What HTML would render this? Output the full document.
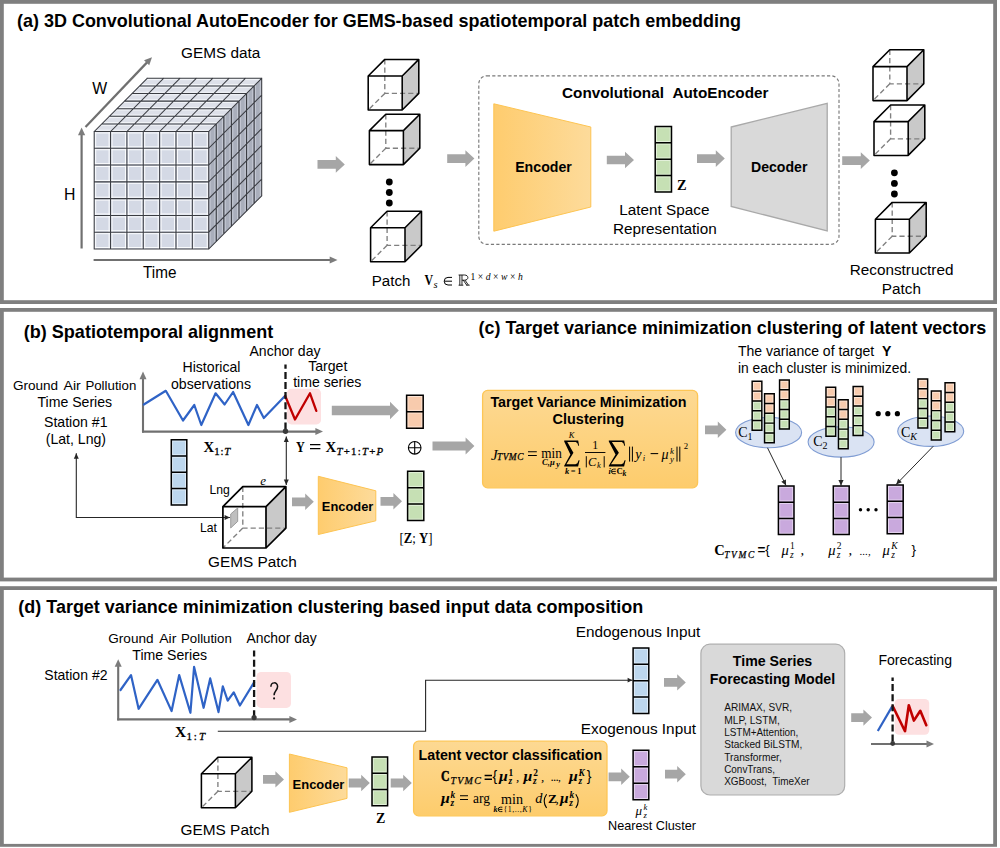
<!DOCTYPE html>
<html lang="en"><head><meta charset="utf-8"><title>TVMC framework</title>
<style>html,body{margin:0;padding:0;background:#fff}body{width:1000px;height:848px;overflow:hidden}svg{display:block}.ss{font-family:"Liberation Sans", sans-serif}.sf{font-family:"Liberation Serif", serif}</style>
</head><body>
<svg width="1000" height="848" viewBox="0 0 1000 848">
<defs>
<linearGradient id="gEnc" x1="0" y1="0" x2="1" y2="0"><stop offset="0" stop-color="#fecc6e"/><stop offset="1" stop-color="#fddb9b"/></linearGradient>
<linearGradient id="gBox" x1="0" y1="0" x2="0" y2="1"><stop offset="0" stop-color="#fdd993"/><stop offset="1" stop-color="#fdcc6c"/></linearGradient>
</defs>
<rect width="1000" height="848" fill="#fff"/>
<rect x="1.9" y="1.9" width="993.2" height="300.2" fill="#fff" stroke="#7f7f7f" stroke-width="3.8"/>
<rect x="1.9" y="309.9" width="993.2" height="269.6" fill="#fff" stroke="#7f7f7f" stroke-width="3.8"/>
<rect x="1.9" y="588.1" width="993.2" height="257.7" fill="#fff" stroke="#7f7f7f" stroke-width="3.8"/>
<rect x="0" y="846.8" width="1000" height="1.2" fill="#fff"/>
<!-- panel a -->
<text class="ss" x="17" y="26.8" font-size="17.9" font-weight="bold" textLength="724" lengthAdjust="spacingAndGlyphs">(a) 3D Convolutional AutoEncoder for GEMS-based spatiotemporal patch embedding</text>
<polygon points="94.2,131.5 208.7,131.5 261.7,78.3 147.2,78.3" fill="#dde0e9"/>
<polygon points="208.7,131.5 261.7,78.3 261.7,195.8 208.7,249" fill="#a9aebb"/>
<rect x="94.2" y="131.5" width="114.5" height="117.5" fill="#d4d9e5"/>
<path d="M95.65 131.5 V249 M94.2 132.95 H208.7 M112.01 131.5 V249 M109.11 131.5 V249 M94.2 149.74 H208.7 M94.2 146.84 H208.7 M128.36 131.5 V249 M125.46 131.5 V249 M94.2 166.52 H208.7 M94.2 163.62 H208.7 M144.72 131.5 V249 M141.82 131.5 V249 M94.2 183.31 H208.7 M94.2 180.41 H208.7 M161.08 131.5 V249 M158.18 131.5 V249 M94.2 200.09 H208.7 M94.2 197.19 H208.7 M177.44 131.5 V249 M174.54 131.5 V249 M94.2 216.88 H208.7 M94.2 213.98 H208.7 M193.79 131.5 V249 M190.89 131.5 V249 M94.2 233.66 H208.7 M94.2 230.76 H208.7 M207.25 131.5 V249 M94.2 247.55 H208.7 " fill="none" stroke="#fbfcfe" stroke-width="1.0"/>
<path d="M95.5 130.2 H210 M103.07 122.6 H217.57 M100.47 125.2 H214.97 M110.64 115 H225.14 M108.04 117.6 H222.54 M118.21 107.4 H232.71 M115.61 110 H230.11 M125.79 99.8 H240.29 M123.19 102.4 H237.69 M133.36 92.2 H247.86 M130.76 94.8 H245.26 M140.93 84.6 H255.43 M138.33 87.2 H252.83 M145.9 79.6 H260.4 " fill="none" stroke="#f3f5f9" stroke-width="1.0"/>
<path d="M210.1 130.1 V247.6 M217.67 122.5 V240 M214.87 125.3 V242.8 M225.24 114.9 V232.4 M222.44 117.7 V235.2 M232.81 107.3 V224.8 M230.01 110.1 V227.6 M240.39 99.7 V217.2 M237.59 102.5 V220 M247.96 92.1 V209.6 M245.16 94.9 V212.4 M255.53 84.5 V202 M252.73 87.3 V204.8 M260.3 79.7 V197.2 " fill="none" stroke="#c6cad5" stroke-width="1.0"/>
<path d="M94.2 131.5 V249 M94.2 131.5 L147.2 78.3 M94.2 131.5 H208.7 M208.7 131.5 L261.7 78.3 M94.2 131.5 H208.7 M208.7 131.5 V249 M110.56 131.5 V249 M110.56 131.5 L163.56 78.3 M94.2 148.29 H208.7 M208.7 148.29 L261.7 95.09 M101.77 123.9 H216.27 M216.27 123.9 V241.4 M126.91 131.5 V249 M126.91 131.5 L179.91 78.3 M94.2 165.07 H208.7 M208.7 165.07 L261.7 111.87 M109.34 116.3 H223.84 M223.84 116.3 V233.8 M143.27 131.5 V249 M143.27 131.5 L196.27 78.3 M94.2 181.86 H208.7 M208.7 181.86 L261.7 128.66 M116.91 108.7 H231.41 M231.41 108.7 V226.2 M159.63 131.5 V249 M159.63 131.5 L212.63 78.3 M94.2 198.64 H208.7 M208.7 198.64 L261.7 145.44 M124.49 101.1 H238.99 M238.99 101.1 V218.6 M175.99 131.5 V249 M175.99 131.5 L228.99 78.3 M94.2 215.43 H208.7 M208.7 215.43 L261.7 162.23 M132.06 93.5 H246.56 M246.56 93.5 V211 M192.34 131.5 V249 M192.34 131.5 L245.34 78.3 M94.2 232.21 H208.7 M208.7 232.21 L261.7 179.01 M139.63 85.9 H254.13 M254.13 85.9 V203.4 M208.7 131.5 V249 M208.7 131.5 L261.7 78.3 M94.2 249 H208.7 M208.7 249 L261.7 195.8 M147.2 78.3 H261.7 M261.7 78.3 V195.8 " fill="none" stroke="#3a3c42" stroke-width="1.05" stroke-linecap="square"/>
<line x1="85.5" y1="127" x2="147.31" y2="62.12" stroke="#707070" stroke-width="2.2"/>
<polygon points="152,57.2 149.22,65.32 144.02,60.37" fill="#7c7c7c"/>
<line x1="81.6" y1="248.5" x2="81.6" y2="134.3" stroke="#707070" stroke-width="2.2"/>
<polygon points="81.6,127.5 85.19,135.3 78.01,135.3" fill="#7c7c7c"/>
<line x1="93.6" y1="260" x2="330.7" y2="260" stroke="#707070" stroke-width="2.2"/>
<polygon points="337.5,260 329.7,263.59 329.7,256.41" fill="#7c7c7c"/>
<text class="ss" x="181" y="58" font-size="15.3" textLength="79.4" lengthAdjust="spacingAndGlyphs">GEMS data</text>
<text class="ss" x="92.3" y="93.9" font-size="15.8">W</text>
<text class="ss" x="64.1" y="199.7" font-size="15.8">H</text>
<text class="ss" x="143" y="277.5" font-size="15.6" textLength="33.4" lengthAdjust="spacingAndGlyphs">Time</text>
<polygon points="317.5,160.1 335.8,160.1 335.8,156.1 344.8,164.4 335.8,172.7 335.8,168.7 317.5,168.7" fill="#a6a6a6"/>
<polygon points="402.2,76 418.8,59.4 418.8,93.4 402.2,110" fill="#c9c9c9"/>
<path d="M384.8 59.4 V93.4 H418.8 M384.8 93.4 L368.2 110" fill="none" stroke="#808080" stroke-width="1.35" stroke-dasharray="5.2 3"/>
<path d="M368.2 76 H402.2 V110 H368.2 Z M368.2 76 L384.8 59.4 H418.8 L402.2 76 M418.8 59.4 V93.4 L402.2 110" fill="none" stroke="#000" stroke-width="1.55" stroke-linejoin="round"/>
<polygon points="403.4,130.6 419.8,114.2 419.8,148.2 403.4,164.6" fill="#c9c9c9"/>
<path d="M385.8 114.2 V148.2 H419.8 M385.8 148.2 L369.4 164.6" fill="none" stroke="#808080" stroke-width="1.35" stroke-dasharray="5.2 3"/>
<path d="M369.4 130.6 H403.4 V164.6 H369.4 Z M369.4 130.6 L385.8 114.2 H419.8 L403.4 130.6 M419.8 114.2 V148.2 L403.4 164.6" fill="none" stroke="#000" stroke-width="1.55" stroke-linejoin="round"/>
<polygon points="405,227.8 421.5,211.3 421.5,245.3 405,261.8" fill="#c9c9c9"/>
<path d="M387.1 211.3 V245.3 H421.5 M387.1 245.3 L370.6 261.8" fill="none" stroke="#808080" stroke-width="1.35" stroke-dasharray="5.2 3"/>
<path d="M370.6 227.8 H405 V261.8 H370.6 Z M370.6 227.8 L387.1 211.3 H421.5 L405 227.8 M421.5 211.3 V245.3 L405 261.8" fill="none" stroke="#000" stroke-width="1.55" stroke-linejoin="round"/>
<circle cx="389.3" cy="182" r="3.4" fill="#000"/>
<circle cx="389.3" cy="192.5" r="3.4" fill="#000"/>
<circle cx="389.3" cy="203" r="3.4" fill="#000"/>
<text class="ss" x="371.8" y="286.4" font-size="15.3" textLength="38.6" lengthAdjust="spacingAndGlyphs">Patch</text>
<text class="sf" x="424.6" y="285.2" font-size="15" font-weight="bold" textLength="8.6" lengthAdjust="spacingAndGlyphs">V</text>
<text class="sf" x="433.6" y="288.4" font-size="10.5" font-style="italic">s</text>
<path d="M452 277.4 H448 A3.8 3.8 0 0 0 448 285 H452 M444.4 281.2 H452" fill="none" stroke="#000" stroke-width="1"/>
<path d="M458.6 285.2 H463.29 M458.6 275 H464.52 M459.82 285.2 V275 M461.97 285.2 V275 M464.52 275 C469 275 469 280.2 464.52 280.2 H461.97 M463.29 280.2 L466.76 285.2 M465.03 280.2 L468.49 285.2 H466.15 M468.49 285.2 H469.62" fill="none" stroke="#000" stroke-width="0.85"/>
<text class="sf" x="470.4" y="279.6" font-size="9.6" textLength="52.4" lengthAdjust="spacing">1×<tspan font-style="italic">d</tspan>×<tspan font-style="italic">w</tspan>×<tspan font-style="italic">h</tspan></text>
<polygon points="447.2,154.3 465.4,154.3 465.4,150.3 474.4,158.6 465.4,166.9 465.4,162.9 447.2,162.9" fill="#a6a6a6"/>
<rect x="478.8" y="75.8" width="360.2" height="168.5" rx="8" ry="8" fill="none" stroke="#7a7a7a" stroke-width="1.15" stroke-dasharray="3.2 2.2"/>
<text class="ss" x="562" y="97.6" font-size="14.6" font-weight="bold" textLength="206.5" lengthAdjust="spacingAndGlyphs">Convolutional&#160;&#160;AutoEncoder</text>
<polygon points="493.8,103.8 590.8,127 590.8,207 493.8,231.2" fill="url(#gEnc)" stroke="#fdc452" stroke-width="1"/>
<text class="ss" x="515.2" y="171.7" font-size="14.2" font-weight="bold" textLength="56.6" lengthAdjust="spacingAndGlyphs">Encoder</text>
<polygon points="606.8,155.7 625,155.7 625,151.7 634,160 625,168.3 625,164.3 606.8,164.3" fill="#a6a6a6"/>
<rect x="655.2" y="126.4" width="16.3" height="16.4" fill="#c6e0b4"/>
<rect x="656.5" y="127.7" width="13.7" height="13.8" fill="none" stroke="#fff" stroke-opacity=".5" stroke-width="1"/>
<rect x="655.2" y="142.8" width="16.3" height="16.4" fill="#c6e0b4"/>
<rect x="656.5" y="144.1" width="13.7" height="13.8" fill="none" stroke="#fff" stroke-opacity=".5" stroke-width="1"/>
<rect x="655.2" y="159.2" width="16.3" height="16.4" fill="#c6e0b4"/>
<rect x="656.5" y="160.5" width="13.7" height="13.8" fill="none" stroke="#fff" stroke-opacity=".5" stroke-width="1"/>
<rect x="655.2" y="175.6" width="16.3" height="16.4" fill="#c6e0b4"/>
<rect x="656.5" y="176.9" width="13.7" height="13.8" fill="none" stroke="#fff" stroke-opacity=".5" stroke-width="1"/>
<path d="M655.2 126.4 h16.3 v65.6 h-16.3 Z M655.2 142.8 h16.3 M655.2 159.2 h16.3 M655.2 175.6 h16.3" fill="none" stroke="#000" stroke-width="1.5"/>
<text class="sf" x="677" y="190.2" font-size="14.4" font-weight="bold">Z</text>
<text class="ss" x="664.4" y="215.2" font-size="15.3" text-anchor="middle">Latent Space</text>
<text class="ss" x="664.8" y="233.9" font-size="15.3" text-anchor="middle">Representation</text>
<polygon points="697,154.3 715.8,154.3 715.8,150.3 724.8,158.6 715.8,166.9 715.8,162.9 697,162.9" fill="#a6a6a6"/>
<polygon points="731.2,127 827.2,103.4 827.2,231 731.2,206.4" fill="#d9d9d9" stroke="#a9a9a9" stroke-width="1.3"/>
<text class="ss" x="751" y="171.8" font-size="14.2" font-weight="bold" textLength="56.4" lengthAdjust="spacingAndGlyphs">Decoder</text>
<polygon points="842.2,156.3 860.8,156.3 860.8,152.3 869.8,160.6 860.8,168.9 860.8,164.9 842.2,164.9" fill="#a6a6a6"/>
<polygon points="907,66.6 923.8,49.8 923.8,83.8 907,100.6" fill="#c9c9c9"/>
<path d="M889.8 49.8 V83.8 H923.8 M889.8 83.8 L873 100.6" fill="none" stroke="#808080" stroke-width="1.35" stroke-dasharray="5.2 3"/>
<path d="M873 66.6 H907 V100.6 H873 Z M873 66.6 L889.8 49.8 H923.8 L907 66.6 M923.8 49.8 V83.8 L907 100.6" fill="none" stroke="#000" stroke-width="1.55" stroke-linejoin="round"/>
<polygon points="908.2,121.6 924.8,105 924.8,138.8 908.2,155.4" fill="#c9c9c9"/>
<path d="M890.6 105 V138.8 H924.8 M890.6 138.8 L874 155.4" fill="none" stroke="#808080" stroke-width="1.35" stroke-dasharray="5.2 3"/>
<path d="M874 121.6 H908.2 V155.4 H874 Z M874 121.6 L890.6 105 H924.8 L908.2 121.6 M924.8 105 V138.8 L908.2 155.4" fill="none" stroke="#000" stroke-width="1.55" stroke-linejoin="round"/>
<polygon points="909.4,219.2 926.2,202.4 926.2,236.2 909.4,253" fill="#c9c9c9"/>
<path d="M892.2 202.4 V236.2 H926.2 M892.2 236.2 L875.4 253" fill="none" stroke="#808080" stroke-width="1.35" stroke-dasharray="5.2 3"/>
<path d="M875.4 219.2 H909.4 V253 H875.4 Z M875.4 219.2 L892.2 202.4 H926.2 L909.4 219.2 M926.2 202.4 V236.2 L909.4 253" fill="none" stroke="#000" stroke-width="1.55" stroke-linejoin="round"/>
<circle cx="894.4" cy="172.8" r="3.4" fill="#000"/>
<circle cx="894.4" cy="183.4" r="3.4" fill="#000"/>
<circle cx="894.4" cy="194" r="3.4" fill="#000"/>
<text class="ss" x="901.6" y="275" font-size="15.3" text-anchor="middle">Reconstructred</text>
<text class="ss" x="901.4" y="293.6" font-size="15.3" text-anchor="middle">Patch</text>
<!-- panel b -->
<text class="ss" x="23.8" y="337.9" font-size="17.8" font-weight="bold" textLength="249.4" lengthAdjust="spacingAndGlyphs">(b) Spatiotemporal alignment</text>
<text class="ss" x="12.9" y="389.6" font-size="13.7" textLength="45.2" lengthAdjust="spacingAndGlyphs">Ground</text>
<text class="ss" x="63.6" y="389.6" font-size="13.7" textLength="17.2" lengthAdjust="spacingAndGlyphs">Air</text>
<text class="ss" x="85.4" y="389.6" font-size="13.7" textLength="50.9" lengthAdjust="spacingAndGlyphs">Pollution</text>
<text class="ss" x="74.8" y="406.8" font-size="14.1" text-anchor="middle">Time Series</text>
<text class="ss" x="75.8" y="426.8" font-size="14.1" text-anchor="middle">Station #1</text>
<text class="ss" x="75.9" y="444.3" font-size="14.1" text-anchor="middle">(Lat, Lng)</text>
<text class="ss" x="211.5" y="371.8" font-size="14.1" text-anchor="middle">Historical</text>
<text class="ss" x="211" y="388.8" font-size="14.1" text-anchor="middle">observations</text>
<text class="ss" x="285" y="355.6" font-size="14.1" text-anchor="middle" textLength="71" lengthAdjust="spacingAndGlyphs">Anchor day</text>
<text class="ss" x="327.8" y="370.8" font-size="14.1" text-anchor="middle">Target</text>
<text class="ss" x="327.2" y="387.1" font-size="14.1" text-anchor="middle">time series</text>
<rect x="286.9" y="388.7" width="34.1" height="35.7" rx="4.5" fill="#fde0e1"/>
<line x1="143" y1="432.6" x2="143" y2="378.2" stroke="#707070" stroke-width="2.1"/>
<polygon points="143,371.6 146.5,379.2 139.5,379.2" fill="#7c7c7c"/>
<line x1="142" y1="431.6" x2="316.4" y2="431.6" stroke="#707070" stroke-width="2.1"/>
<polygon points="323,431.6 315.4,435.1 315.4,428.1" fill="#7c7c7c"/>
<polyline points="143.8,404.5 165.8,390.8 183,420.5 194.3,405 201.3,425 215.6,393.3 224.6,404.5 233.1,392 248.4,425 257,405 263.8,418 285.2,395.8" fill="none" stroke="#2f63c6" stroke-width="2.2" stroke-linejoin="round" stroke-linecap="round"/>
<polyline points="285.2,396 295,419.5 310,393.3 316.3,410.8" fill="none" stroke="#c00000" stroke-width="2.3" stroke-linejoin="round" stroke-linecap="round"/>
<line x1="285.5" y1="429.4" x2="285.5" y2="364.5" stroke="#151515" stroke-width="2.3" stroke-dasharray="7 3.1"/>
<circle cx="285.5" cy="431.3" r="2.7" fill="#3a3a3a"/>
<polygon points="331.8,405.8 390,405.8 390,401.8 398.8,410.5 390,419.2 390,415.2 331.8,415.2" fill="#a6a6a6"/>
<rect x="406.6" y="395.2" width="16.6" height="16.5" fill="#f8cbad"/>
<rect x="407.9" y="396.5" width="14" height="13.9" fill="none" stroke="#fff" stroke-opacity=".5" stroke-width="1"/>
<rect x="406.6" y="411.7" width="16.6" height="16.5" fill="#f8cbad"/>
<rect x="407.9" y="413" width="14" height="13.9" fill="none" stroke="#fff" stroke-opacity=".5" stroke-width="1"/>
<path d="M406.6 395.2 h16.6 v33 h-16.6 Z M406.6 411.7 h16.6" fill="none" stroke="#000" stroke-width="1.5"/>
<circle cx="414.7" cy="447.8" r="6.3" fill="none" stroke="#000" stroke-width="1.1"/>
<path d="M408.4 447.8 H421 M414.7 441.5 V454.1" stroke="#000" stroke-width="1.1" fill="none"/>
<polygon points="432.5,441.4 465.6,441.4 465.6,437.4 474.4,446 465.6,454.6 465.6,450.6 432.5,450.6" fill="#a6a6a6"/>
<rect x="171.3" y="439.7" width="15.5" height="16.3" fill="#bdd7ee"/>
<rect x="172.6" y="441" width="12.9" height="13.7" fill="none" stroke="#fff" stroke-opacity=".5" stroke-width="1"/>
<rect x="171.3" y="456" width="15.5" height="16.3" fill="#bdd7ee"/>
<rect x="172.6" y="457.3" width="12.9" height="13.7" fill="none" stroke="#fff" stroke-opacity=".5" stroke-width="1"/>
<rect x="171.3" y="472.3" width="15.5" height="16.3" fill="#bdd7ee"/>
<rect x="172.6" y="473.6" width="12.9" height="13.7" fill="none" stroke="#fff" stroke-opacity=".5" stroke-width="1"/>
<rect x="171.3" y="488.6" width="15.5" height="16.3" fill="#bdd7ee"/>
<rect x="172.6" y="489.9" width="12.9" height="13.7" fill="none" stroke="#fff" stroke-opacity=".5" stroke-width="1"/>
<path d="M171.3 439.7 h15.5 v65.2 h-15.5 Z M171.3 456 h15.5 M171.3 472.3 h15.5 M171.3 488.6 h15.5" fill="none" stroke="#000" stroke-width="1.5"/>
<text class="sf" x="203.6" y="452" font-size="14.8" font-weight="bold">X</text>
<text class="sf" x="214.2" y="455.2" font-size="10.8" stroke="#000" stroke-width=".3" textLength="16" lengthAdjust="spacing">1:<tspan font-style="italic">T</tspan></text>
<text class="sf" x="296" y="452" font-size="14.8" font-weight="bold" textLength="8.8" lengthAdjust="spacingAndGlyphs">Y</text>
<path d="M310 444.6 H320.4 M310 448.6 H320.4" stroke="#000" stroke-width="1.15" fill="none"/>
<text class="sf" x="325.6" y="452" font-size="14.8" font-weight="bold">X</text>
<text class="sf" x="336.4" y="455.2" font-size="10.8" stroke="#000" stroke-width=".3" textLength="46.8" lengthAdjust="spacing"><tspan font-style="italic">T</tspan>+1:<tspan font-style="italic">T</tspan>+<tspan font-style="italic">P</tspan></text>
<path d="M230 517.5 L76.3 517.5 L76.3 453.3" fill="none" stroke="#262626" stroke-width="1.1"/>
<polygon points="76.3,453.3 78.78,458.7 73.82,458.7" fill="#262626"/>
<polygon points="230,517.5 224.6,519.98 224.6,515.02" fill="#262626"/>
<path d="M286.3 485 L286.3 436.5" fill="none" stroke="#262626" stroke-width="1.1"/>
<polygon points="286.3,436.5 288.78,441.9 283.82,441.9" fill="#262626"/>
<polygon points="286.3,485 283.82,479.6 288.78,479.6" fill="#262626"/>
<polygon points="266,506.6 285.9,486.7 285.9,528.1 266,548" fill="#c9c9c9"/>
<path d="M242.8 486.7 V528.1 H285.9 M242.8 528.1 L222.9 548" fill="none" stroke="#808080" stroke-width="1.35" stroke-dasharray="5.2 3"/>
<path d="M222.9 506.6 H266 V548 H222.9 Z M222.9 506.6 L242.8 486.7 H285.9 L266 506.6 M285.9 486.7 V528.1 L266 548" fill="none" stroke="#000" stroke-width="1.7" stroke-linejoin="round"/>
<polygon points="230.7,514 237.7,507.9 237.7,521.4 230.7,528" fill="#bfbfbf" stroke="#8c8c8c" stroke-width=".8"/>
<text class="ss" x="209.5" y="494" font-size="12.2">Lng</text>
<text class="ss" x="200" y="532" font-size="12.2">Lat</text>
<text class="sf" x="260.2" y="484.8" font-size="13" font-style="italic">e</text>
<text class="ss" x="208" y="567.2" font-size="15.3" textLength="88.8" lengthAdjust="spacingAndGlyphs">GEMS Patch</text>
<polygon points="292,497.4 305.2,497.4 305.2,493.6 313.8,501.8 305.2,510 305.2,506.2 292,506.2" fill="#a6a6a6"/>
<polygon points="318.3,476.3 375.8,490.8 375.8,520.8 318.3,534.5" fill="url(#gEnc)" stroke="#fdc452" stroke-width="1"/>
<text class="ss" x="321.8" y="510.9" font-size="12.9" font-weight="bold" textLength="51.5" lengthAdjust="spacingAndGlyphs">Encoder</text>
<polygon points="380.5,496.9 393.4,496.9 393.4,493.1 402,501.3 393.4,509.5 393.4,505.7 380.5,505.7" fill="#a6a6a6"/>
<rect x="407.6" y="471.3" width="16.2" height="16.4" fill="#c6e0b4"/>
<rect x="408.9" y="472.6" width="13.6" height="13.8" fill="none" stroke="#fff" stroke-opacity=".5" stroke-width="1"/>
<rect x="407.6" y="487.7" width="16.2" height="16.4" fill="#c6e0b4"/>
<rect x="408.9" y="489" width="13.6" height="13.8" fill="none" stroke="#fff" stroke-opacity=".5" stroke-width="1"/>
<rect x="407.6" y="504.1" width="16.2" height="16.4" fill="#c6e0b4"/>
<rect x="408.9" y="505.4" width="13.6" height="13.8" fill="none" stroke="#fff" stroke-opacity=".5" stroke-width="1"/>
<path d="M407.6 471.3 h16.2 v49.2 h-16.2 Z M407.6 487.7 h16.2 M407.6 504.1 h16.2" fill="none" stroke="#000" stroke-width="1.5"/>
<text class="sf" x="399.4" y="542.5" font-size="14.5" textLength="33" lengthAdjust="spacingAndGlyphs">[<tspan font-weight="bold">Z</tspan>; <tspan font-weight="bold">Y</tspan>]</text>
<!-- panel c -->
<text class="ss" x="478.5" y="333.8" font-size="17.7" font-weight="bold" textLength="507.8" lengthAdjust="spacingAndGlyphs">(c) Target variance minimization clustering of latent vectors</text>
<rect x="482.6" y="390.4" width="215" height="97.4" rx="5" fill="url(#gBox)" stroke="#fdc656" stroke-width="1.3"/>
<text class="ss" x="588.4" y="407.3" font-size="14.2" text-anchor="middle" font-weight="bold" textLength="196" lengthAdjust="spacingAndGlyphs">Target Variance Minimization</text>
<text class="ss" x="588.3" y="424.4" font-size="14.2" text-anchor="middle" font-weight="bold" textLength="71.4" lengthAdjust="spacingAndGlyphs">Clustering</text>
<g class="sf" font-size="15">
<text x="491" y="459.6" font-style="italic">J</text>
<text x="497" y="460.4" font-size="9.4" font-style="italic" stroke="#000" stroke-width=".25" textLength="26.4" lengthAdjust="spacing">TVMC</text>
<path d="M528 451.8 H536.8 M528 455.4 H536.8" stroke="#000" stroke-width="1.05" fill="none"/>
<text x="541.2" y="457.8" font-size="13.6" textLength="20.6" lengthAdjust="spacingAndGlyphs">min</text>
<text x="542" y="465.4" font-size="8.6" font-style="italic" font-weight="bold">C,μ</text>
<text x="556.2" y="467.2" font-size="8.2" font-style="italic" font-weight="bold">y</text>
<polygon points="564.2,440.6 578.2,440.6 579.1,445.8 578.3,445.8 577.4,443.2 575.8,441.9 567.3,441.9 573.44,452.69 566.4,464.3 575.4,464.3 577.4,463.2 578.6,460.2 579.6,460.2 578.1,466.6 564.2,466.6 564.2,465.7 570.36,454.38 564.2,441.5" fill="#000"/>
<text x="571.6" y="437.9" font-size="8.6" text-anchor="middle" font-style="italic">K</text>
<text x="573.2" y="474.2" font-size="8.4" text-anchor="middle" font-weight="bold" textLength="16.6" lengthAdjust="spacing"><tspan font-style="italic">k</tspan>=1</text>
<text x="595.2" y="448.8" font-size="11.8" text-anchor="middle">1</text>
<line x1="585" y1="452.5" x2="605.4" y2="452.5" stroke="#000" stroke-width=".95"/>
<path d="M586.3 456.2 V467.4 M604.2 456.2 V467.4" stroke="#000" stroke-width=".95"/>
<text x="588" y="465.6" font-size="12.4" font-style="italic">C</text>
<text x="597" y="467.6" font-size="8.6" font-style="italic">k</text>
<polygon points="608.8,440.6 624.2,440.6 625.1,445.8 624.3,445.8 623.4,443.2 621.8,441.9 611.9,441.9 618.88,452.69 611,464.3 621.4,464.3 623.4,463.2 624.6,460.2 625.6,460.2 624.1,466.6 608.8,466.6 608.8,465.7 615.52,454.38 608.8,441.5" fill="#000"/>
<text x="608.6" y="474.2" font-size="8.4" font-style="italic" font-weight="bold">i</text>
<path d="M615.8 469.1 H613.7 A2.3 2.3 0 0 0 613.7 473.7 H615.8 M611.6 471.4 H615.8" fill="none" stroke="#000" stroke-width="0.9"/>
<text x="616.4" y="474.2" font-size="8.6" font-weight="bold">C</text>
<text x="622.6" y="475.6" font-size="7.6" font-style="italic" font-weight="bold">k</text>
<path d="M629.6 446.6 V461.6 M632.4 446.6 V461.6 M677 446.6 V461.6 M679.8 446.6 V461.6" stroke="#000" stroke-width="1"/>
<text x="635.2" y="459.2" font-size="14" font-style="italic">y</text>
<text x="642.8" y="461.4" font-size="8.6" font-style="italic">i</text>
<path d="M650.6 453.6 H658.2" stroke="#000" stroke-width="1.05"/>
<text x="661.4" y="459.2" font-size="14" font-style="italic">μ</text>
<text x="670" y="453.8" font-size="8.8" font-style="italic">k</text>
<text x="670" y="462.4" font-size="8.8" font-style="italic">y</text>
<text x="683.8" y="449.2" font-size="8.8">2</text>
</g>
<polygon points="705,425.4 717.8,425.4 717.8,421.6 726.4,429.8 717.8,438 717.8,434.2 705,434.2" fill="#a6a6a6"/>
<text class="ss" x="738" y="355.8" font-size="13.8" textLength="153.4" lengthAdjust="spacingAndGlyphs">The variance of target&#160;&#160;<tspan font-weight="bold">Y</tspan></text>
<text class="ss" x="738" y="372.9" font-size="13.8" textLength="173" lengthAdjust="spacingAndGlyphs">in each cluster is minimized.</text>
<ellipse cx="768.6" cy="432.6" rx="33" ry="15.2" fill="#dae3f3" stroke="#7f9cd3" stroke-width="1.1"/>
<ellipse cx="841.1" cy="441.9" rx="33" ry="15.2" fill="#dae3f3" stroke="#7f9cd3" stroke-width="1.1"/>
<ellipse cx="930.7" cy="431.2" rx="33" ry="15.2" fill="#dae3f3" stroke="#7f9cd3" stroke-width="1.1"/>
<rect x="752.15" y="381.3" width="9.7" height="9.8" fill="#f8cbad"/>
<rect x="753.45" y="382.6" width="7.1" height="7.2" fill="none" stroke="#fff" stroke-opacity=".5" stroke-width="1"/>
<rect x="752.15" y="391.1" width="9.7" height="9.8" fill="#f8cbad"/>
<rect x="753.45" y="392.4" width="7.1" height="7.2" fill="none" stroke="#fff" stroke-opacity=".5" stroke-width="1"/>
<rect x="752.15" y="400.9" width="9.7" height="9.8" fill="#c6e0b4"/>
<rect x="753.45" y="402.2" width="7.1" height="7.2" fill="none" stroke="#fff" stroke-opacity=".5" stroke-width="1"/>
<rect x="752.15" y="410.7" width="9.7" height="9.8" fill="#c6e0b4"/>
<rect x="753.45" y="412" width="7.1" height="7.2" fill="none" stroke="#fff" stroke-opacity=".5" stroke-width="1"/>
<rect x="752.15" y="420.5" width="9.7" height="9.8" fill="#c6e0b4"/>
<rect x="753.45" y="421.8" width="7.1" height="7.2" fill="none" stroke="#fff" stroke-opacity=".5" stroke-width="1"/>
<path d="M752.15 381.3 h9.7 v49 h-9.7 Z M752.15 391.1 h9.7 M752.15 400.9 h9.7 M752.15 410.7 h9.7 M752.15 420.5 h9.7" fill="none" stroke="#000" stroke-width="1.45"/>
<rect x="764.55" y="393.7" width="9.7" height="9.8" fill="#f8cbad"/>
<rect x="765.85" y="395" width="7.1" height="7.2" fill="none" stroke="#fff" stroke-opacity=".5" stroke-width="1"/>
<rect x="764.55" y="403.5" width="9.7" height="9.8" fill="#f8cbad"/>
<rect x="765.85" y="404.8" width="7.1" height="7.2" fill="none" stroke="#fff" stroke-opacity=".5" stroke-width="1"/>
<rect x="764.55" y="413.3" width="9.7" height="9.8" fill="#c6e0b4"/>
<rect x="765.85" y="414.6" width="7.1" height="7.2" fill="none" stroke="#fff" stroke-opacity=".5" stroke-width="1"/>
<rect x="764.55" y="423.1" width="9.7" height="9.8" fill="#c6e0b4"/>
<rect x="765.85" y="424.4" width="7.1" height="7.2" fill="none" stroke="#fff" stroke-opacity=".5" stroke-width="1"/>
<rect x="764.55" y="432.9" width="9.7" height="9.8" fill="#c6e0b4"/>
<rect x="765.85" y="434.2" width="7.1" height="7.2" fill="none" stroke="#fff" stroke-opacity=".5" stroke-width="1"/>
<path d="M764.55 393.7 h9.7 v49 h-9.7 Z M764.55 403.5 h9.7 M764.55 413.3 h9.7 M764.55 423.1 h9.7 M764.55 432.9 h9.7" fill="none" stroke="#000" stroke-width="1.45"/>
<rect x="779.55" y="380" width="9.7" height="9.8" fill="#f8cbad"/>
<rect x="780.85" y="381.3" width="7.1" height="7.2" fill="none" stroke="#fff" stroke-opacity=".5" stroke-width="1"/>
<rect x="779.55" y="389.8" width="9.7" height="9.8" fill="#f8cbad"/>
<rect x="780.85" y="391.1" width="7.1" height="7.2" fill="none" stroke="#fff" stroke-opacity=".5" stroke-width="1"/>
<rect x="779.55" y="399.6" width="9.7" height="9.8" fill="#c6e0b4"/>
<rect x="780.85" y="400.9" width="7.1" height="7.2" fill="none" stroke="#fff" stroke-opacity=".5" stroke-width="1"/>
<rect x="779.55" y="409.4" width="9.7" height="9.8" fill="#c6e0b4"/>
<rect x="780.85" y="410.7" width="7.1" height="7.2" fill="none" stroke="#fff" stroke-opacity=".5" stroke-width="1"/>
<rect x="779.55" y="419.2" width="9.7" height="9.8" fill="#c6e0b4"/>
<rect x="780.85" y="420.5" width="7.1" height="7.2" fill="none" stroke="#fff" stroke-opacity=".5" stroke-width="1"/>
<path d="M779.55 380 h9.7 v49 h-9.7 Z M779.55 389.8 h9.7 M779.55 399.6 h9.7 M779.55 409.4 h9.7 M779.55 419.2 h9.7" fill="none" stroke="#000" stroke-width="1.45"/>
<rect x="825.95" y="387.3" width="9.7" height="9.8" fill="#f8cbad"/>
<rect x="827.25" y="388.6" width="7.1" height="7.2" fill="none" stroke="#fff" stroke-opacity=".5" stroke-width="1"/>
<rect x="825.95" y="397.1" width="9.7" height="9.8" fill="#f8cbad"/>
<rect x="827.25" y="398.4" width="7.1" height="7.2" fill="none" stroke="#fff" stroke-opacity=".5" stroke-width="1"/>
<rect x="825.95" y="406.9" width="9.7" height="9.8" fill="#c6e0b4"/>
<rect x="827.25" y="408.2" width="7.1" height="7.2" fill="none" stroke="#fff" stroke-opacity=".5" stroke-width="1"/>
<rect x="825.95" y="416.7" width="9.7" height="9.8" fill="#c6e0b4"/>
<rect x="827.25" y="418" width="7.1" height="7.2" fill="none" stroke="#fff" stroke-opacity=".5" stroke-width="1"/>
<rect x="825.95" y="426.5" width="9.7" height="9.8" fill="#c6e0b4"/>
<rect x="827.25" y="427.8" width="7.1" height="7.2" fill="none" stroke="#fff" stroke-opacity=".5" stroke-width="1"/>
<path d="M825.95 387.3 h9.7 v49 h-9.7 Z M825.95 397.1 h9.7 M825.95 406.9 h9.7 M825.95 416.7 h9.7 M825.95 426.5 h9.7" fill="none" stroke="#000" stroke-width="1.45"/>
<rect x="838.45" y="399.7" width="9.7" height="9.8" fill="#f8cbad"/>
<rect x="839.75" y="401" width="7.1" height="7.2" fill="none" stroke="#fff" stroke-opacity=".5" stroke-width="1"/>
<rect x="838.45" y="409.5" width="9.7" height="9.8" fill="#f8cbad"/>
<rect x="839.75" y="410.8" width="7.1" height="7.2" fill="none" stroke="#fff" stroke-opacity=".5" stroke-width="1"/>
<rect x="838.45" y="419.3" width="9.7" height="9.8" fill="#c6e0b4"/>
<rect x="839.75" y="420.6" width="7.1" height="7.2" fill="none" stroke="#fff" stroke-opacity=".5" stroke-width="1"/>
<rect x="838.45" y="429.1" width="9.7" height="9.8" fill="#c6e0b4"/>
<rect x="839.75" y="430.4" width="7.1" height="7.2" fill="none" stroke="#fff" stroke-opacity=".5" stroke-width="1"/>
<rect x="838.45" y="438.9" width="9.7" height="9.8" fill="#c6e0b4"/>
<rect x="839.75" y="440.2" width="7.1" height="7.2" fill="none" stroke="#fff" stroke-opacity=".5" stroke-width="1"/>
<path d="M838.45 399.7 h9.7 v49 h-9.7 Z M838.45 409.5 h9.7 M838.45 419.3 h9.7 M838.45 429.1 h9.7 M838.45 438.9 h9.7" fill="none" stroke="#000" stroke-width="1.45"/>
<rect x="853.15" y="386.4" width="9.7" height="9.8" fill="#f8cbad"/>
<rect x="854.45" y="387.7" width="7.1" height="7.2" fill="none" stroke="#fff" stroke-opacity=".5" stroke-width="1"/>
<rect x="853.15" y="396.2" width="9.7" height="9.8" fill="#f8cbad"/>
<rect x="854.45" y="397.5" width="7.1" height="7.2" fill="none" stroke="#fff" stroke-opacity=".5" stroke-width="1"/>
<rect x="853.15" y="406" width="9.7" height="9.8" fill="#c6e0b4"/>
<rect x="854.45" y="407.3" width="7.1" height="7.2" fill="none" stroke="#fff" stroke-opacity=".5" stroke-width="1"/>
<rect x="853.15" y="415.8" width="9.7" height="9.8" fill="#c6e0b4"/>
<rect x="854.45" y="417.1" width="7.1" height="7.2" fill="none" stroke="#fff" stroke-opacity=".5" stroke-width="1"/>
<rect x="853.15" y="425.6" width="9.7" height="9.8" fill="#c6e0b4"/>
<rect x="854.45" y="426.9" width="7.1" height="7.2" fill="none" stroke="#fff" stroke-opacity=".5" stroke-width="1"/>
<path d="M853.15 386.4 h9.7 v49 h-9.7 Z M853.15 396.2 h9.7 M853.15 406 h9.7 M853.15 415.8 h9.7 M853.15 425.6 h9.7" fill="none" stroke="#000" stroke-width="1.45"/>
<rect x="917.95" y="379" width="9.7" height="9.8" fill="#f8cbad"/>
<rect x="919.25" y="380.3" width="7.1" height="7.2" fill="none" stroke="#fff" stroke-opacity=".5" stroke-width="1"/>
<rect x="917.95" y="388.8" width="9.7" height="9.8" fill="#f8cbad"/>
<rect x="919.25" y="390.1" width="7.1" height="7.2" fill="none" stroke="#fff" stroke-opacity=".5" stroke-width="1"/>
<rect x="917.95" y="398.6" width="9.7" height="9.8" fill="#c6e0b4"/>
<rect x="919.25" y="399.9" width="7.1" height="7.2" fill="none" stroke="#fff" stroke-opacity=".5" stroke-width="1"/>
<rect x="917.95" y="408.4" width="9.7" height="9.8" fill="#c6e0b4"/>
<rect x="919.25" y="409.7" width="7.1" height="7.2" fill="none" stroke="#fff" stroke-opacity=".5" stroke-width="1"/>
<rect x="917.95" y="418.2" width="9.7" height="9.8" fill="#c6e0b4"/>
<rect x="919.25" y="419.5" width="7.1" height="7.2" fill="none" stroke="#fff" stroke-opacity=".5" stroke-width="1"/>
<path d="M917.95 379 h9.7 v49 h-9.7 Z M917.95 388.8 h9.7 M917.95 398.6 h9.7 M917.95 408.4 h9.7 M917.95 418.2 h9.7" fill="none" stroke="#000" stroke-width="1.45"/>
<rect x="931.35" y="391" width="9.7" height="9.8" fill="#f8cbad"/>
<rect x="932.65" y="392.3" width="7.1" height="7.2" fill="none" stroke="#fff" stroke-opacity=".5" stroke-width="1"/>
<rect x="931.35" y="400.8" width="9.7" height="9.8" fill="#f8cbad"/>
<rect x="932.65" y="402.1" width="7.1" height="7.2" fill="none" stroke="#fff" stroke-opacity=".5" stroke-width="1"/>
<rect x="931.35" y="410.6" width="9.7" height="9.8" fill="#c6e0b4"/>
<rect x="932.65" y="411.9" width="7.1" height="7.2" fill="none" stroke="#fff" stroke-opacity=".5" stroke-width="1"/>
<rect x="931.35" y="420.4" width="9.7" height="9.8" fill="#c6e0b4"/>
<rect x="932.65" y="421.7" width="7.1" height="7.2" fill="none" stroke="#fff" stroke-opacity=".5" stroke-width="1"/>
<rect x="931.35" y="430.2" width="9.7" height="9.8" fill="#c6e0b4"/>
<rect x="932.65" y="431.5" width="7.1" height="7.2" fill="none" stroke="#fff" stroke-opacity=".5" stroke-width="1"/>
<path d="M931.35 391 h9.7 v49 h-9.7 Z M931.35 400.8 h9.7 M931.35 410.6 h9.7 M931.35 420.4 h9.7 M931.35 430.2 h9.7" fill="none" stroke="#000" stroke-width="1.45"/>
<rect x="945.05" y="382.7" width="9.7" height="9.8" fill="#f8cbad"/>
<rect x="946.35" y="384" width="7.1" height="7.2" fill="none" stroke="#fff" stroke-opacity=".5" stroke-width="1"/>
<rect x="945.05" y="392.5" width="9.7" height="9.8" fill="#f8cbad"/>
<rect x="946.35" y="393.8" width="7.1" height="7.2" fill="none" stroke="#fff" stroke-opacity=".5" stroke-width="1"/>
<rect x="945.05" y="402.3" width="9.7" height="9.8" fill="#c6e0b4"/>
<rect x="946.35" y="403.6" width="7.1" height="7.2" fill="none" stroke="#fff" stroke-opacity=".5" stroke-width="1"/>
<rect x="945.05" y="412.1" width="9.7" height="9.8" fill="#c6e0b4"/>
<rect x="946.35" y="413.4" width="7.1" height="7.2" fill="none" stroke="#fff" stroke-opacity=".5" stroke-width="1"/>
<rect x="945.05" y="421.9" width="9.7" height="9.8" fill="#c6e0b4"/>
<rect x="946.35" y="423.2" width="7.1" height="7.2" fill="none" stroke="#fff" stroke-opacity=".5" stroke-width="1"/>
<path d="M945.05 382.7 h9.7 v49 h-9.7 Z M945.05 392.5 h9.7 M945.05 402.3 h9.7 M945.05 412.1 h9.7 M945.05 421.9 h9.7" fill="none" stroke="#000" stroke-width="1.45"/>
<circle cx="878.2" cy="413.7" r="2.6" fill="#000"/>
<circle cx="887.8" cy="413.7" r="2.6" fill="#000"/>
<circle cx="897.4" cy="413.7" r="2.6" fill="#000"/>
<text class="sf" x="738.2" y="437.2" font-size="14">C<tspan font-size="10" dy="2.6">1</tspan></text>
<text class="sf" x="813.2" y="446.4" font-size="14">C<tspan font-size="10" dy="2.6">2</tspan></text>
<text class="sf" x="901" y="437.2" font-size="14">C<tspan font-size="10" dy="2.6" font-style="italic">K</tspan></text>
<path d="M767.5 447.8 L786 485.4" fill="none" stroke="#262626" stroke-width="1"/>
<polygon points="786,485.4 781.29,481.7 785.94,479.41" fill="#262626"/>
<path d="M841 457.1 L841 485.4" fill="none" stroke="#262626" stroke-width="1"/>
<polygon points="841,485.4 838.41,480 843.59,480" fill="#262626"/>
<path d="M933.3 446.2 L896.2 484.4" fill="none" stroke="#262626" stroke-width="1"/>
<polygon points="896.2,484.4 898.1,478.72 901.82,482.33" fill="#262626"/>
<rect x="778.4" y="486" width="15.6" height="16.2" fill="#c9a9dd"/>
<rect x="779.7" y="487.3" width="13" height="13.6" fill="none" stroke="#fff" stroke-opacity=".5" stroke-width="1"/>
<rect x="778.4" y="502.2" width="15.6" height="16.2" fill="#c9a9dd"/>
<rect x="779.7" y="503.5" width="13" height="13.6" fill="none" stroke="#fff" stroke-opacity=".5" stroke-width="1"/>
<rect x="778.4" y="518.4" width="15.6" height="16.2" fill="#c9a9dd"/>
<rect x="779.7" y="519.7" width="13" height="13.6" fill="none" stroke="#fff" stroke-opacity=".5" stroke-width="1"/>
<path d="M778.4 486 h15.6 v48.6 h-15.6 Z M778.4 502.2 h15.6 M778.4 518.4 h15.6" fill="none" stroke="#000" stroke-width="1.5"/>
<rect x="833.3" y="486" width="15.9" height="16.2" fill="#c9a9dd"/>
<rect x="834.6" y="487.3" width="13.3" height="13.6" fill="none" stroke="#fff" stroke-opacity=".5" stroke-width="1"/>
<rect x="833.3" y="502.2" width="15.9" height="16.2" fill="#c9a9dd"/>
<rect x="834.6" y="503.5" width="13.3" height="13.6" fill="none" stroke="#fff" stroke-opacity=".5" stroke-width="1"/>
<rect x="833.3" y="518.4" width="15.9" height="16.2" fill="#c9a9dd"/>
<rect x="834.6" y="519.7" width="13.3" height="13.6" fill="none" stroke="#fff" stroke-opacity=".5" stroke-width="1"/>
<path d="M833.3 486 h15.9 v48.6 h-15.9 Z M833.3 502.2 h15.9 M833.3 518.4 h15.9" fill="none" stroke="#000" stroke-width="1.5"/>
<rect x="887.2" y="485.1" width="16" height="16.2" fill="#c9a9dd"/>
<rect x="888.5" y="486.4" width="13.4" height="13.6" fill="none" stroke="#fff" stroke-opacity=".5" stroke-width="1"/>
<rect x="887.2" y="501.3" width="16" height="16.2" fill="#c9a9dd"/>
<rect x="888.5" y="502.6" width="13.4" height="13.6" fill="none" stroke="#fff" stroke-opacity=".5" stroke-width="1"/>
<rect x="887.2" y="517.5" width="16" height="16.2" fill="#c9a9dd"/>
<rect x="888.5" y="518.8" width="13.4" height="13.6" fill="none" stroke="#fff" stroke-opacity=".5" stroke-width="1"/>
<path d="M887.2 485.1 h16 v48.6 h-16 Z M887.2 501.3 h16 M887.2 517.5 h16" fill="none" stroke="#000" stroke-width="1.5"/>
<circle cx="860.5" cy="509.8" r="1.7" fill="#000"/>
<circle cx="868.2" cy="509.8" r="1.7" fill="#000"/>
<circle cx="876" cy="509.8" r="1.7" fill="#000"/>
<g class="sf" font-size="14.5">
<text x="714.2" y="554.8" font-weight="bold">C</text>
<text x="724.2" y="557.6" font-size="9.4" font-style="italic" stroke="#000" stroke-width=".25" textLength="30" lengthAdjust="spacing">TVMC</text>
<text class="ss" x="757.4" y="554.4" font-size="13.5"><tspan font-weight="bold">=</tspan>{</text>
<text x="781.4" y="554.8" font-style="italic">μ</text>
<text x="790" y="549.4" font-size="9.5">1</text>
<text x="790" y="558.2" font-size="9.5" font-style="italic">z</text>
<text x="800.6" y="554.8" font-style="italic">,</text>
<text x="828.2" y="554.8" font-style="italic">μ</text>
<text x="836.8" y="549.4" font-size="9.5">2</text>
<text x="836.8" y="558.2" font-size="9.5" font-style="italic">z</text>
<text x="848.4" y="554.8" font-style="italic">, <tspan dx="4" font-size="11">...,</tspan></text>
<text x="882.6" y="554.8" font-style="italic">μ</text>
<text x="891.2" y="549.4" font-size="9.5" font-style="italic">K</text>
<text x="891.2" y="558.2" font-size="9.5" font-style="italic">z</text>
<text class="ss" x="911.6" y="554.4" font-size="13.5">}</text>
</g>
<!-- panel d -->
<text class="ss" x="18.3" y="613" font-size="17.5" font-weight="bold" textLength="625" lengthAdjust="spacingAndGlyphs">(d) Target variance minimization clustering based input data composition</text>
<text class="ss" x="108.3" y="642.7" font-size="13.7" textLength="45.2" lengthAdjust="spacingAndGlyphs">Ground</text>
<text class="ss" x="159.2" y="642.7" font-size="13.7" textLength="17.2" lengthAdjust="spacingAndGlyphs">Air</text>
<text class="ss" x="181" y="642.7" font-size="13.7" textLength="50.8" lengthAdjust="spacingAndGlyphs">Pollution</text>
<text class="ss" x="169.7" y="660.4" font-size="14.1" text-anchor="middle">Time Series</text>
<text class="ss" x="281.6" y="642.7" font-size="14.1" text-anchor="middle" textLength="70.4" lengthAdjust="spacingAndGlyphs">Anchor day</text>
<text class="ss" x="44.3" y="680.1" font-size="14.1" textLength="63.2" lengthAdjust="spacingAndGlyphs">Station #2</text>
<rect x="256.5" y="671.9" width="34.5" height="36" rx="4.5" fill="#fde0e1"/>
<path d="M270.9 686.8 C270.9 681.6 277.6 681.6 277.6 686.6 C277.6 690.4 274.1 690.6 274.1 695.2" fill="none" stroke="#111" stroke-width="1.5"/><circle cx="274.1" cy="698.4" r="1.05" fill="#111"/>
<line x1="118.2" y1="720.4" x2="118.2" y2="665.8" stroke="#707070" stroke-width="2.1"/>
<polygon points="118.2,659.2 121.7,666.8 114.7,666.8" fill="#7c7c7c"/>
<line x1="117.2" y1="719.4" x2="290.4" y2="719.4" stroke="#707070" stroke-width="2.1"/>
<polygon points="297,719.4 289.4,722.9 289.4,715.9" fill="#7c7c7c"/>
<polyline points="120.5,690 131,675.1 138.6,708.8 157.4,679.8 171.6,711.1 179.2,675.1 190.4,712.8 194.1,666.9 203.6,707.8 210.2,678.4 218.5,712.1 222.8,686.4 227.7,700.6 233.7,692.3 239.9,705.5 254.1,682.4" fill="none" stroke="#2f63c6" stroke-width="2.2" stroke-linejoin="round" stroke-linecap="round"/>
<line x1="254.1" y1="717.2" x2="254.1" y2="650.6" stroke="#151515" stroke-width="2.3" stroke-dasharray="7 3.1"/>
<circle cx="254.1" cy="717.6" r="2.6" fill="#3a3a3a"/>
<text class="sf" x="175" y="737" font-size="15.4" font-weight="bold">X</text>
<text class="sf" x="186.4" y="740.4" font-size="11" stroke="#000" stroke-width=".3" textLength="18.6" lengthAdjust="spacing">1:<tspan font-style="italic">T</tspan></text>
<path d="M217.8 731.2 L425.6 731.2 L425.6 680.2 L632.4 680.2" fill="none" stroke="#262626" stroke-width="1.1"/>
<polygon points="632.4,680.2 627.6,682.6 627.6,677.8" fill="#262626"/>
<polygon points="235.4,773.8 251.9,757.3 251.9,791.3 235.4,807.8" fill="#c9c9c9"/>
<path d="M217.9 757.3 V791.3 H251.9 M217.9 791.3 L201.4 807.8" fill="none" stroke="#808080" stroke-width="1.35" stroke-dasharray="5.2 3"/>
<path d="M201.4 773.8 H235.4 V807.8 H201.4 Z M201.4 773.8 L217.9 757.3 H251.9 L235.4 773.8 M251.9 757.3 V791.3 L235.4 807.8" fill="none" stroke="#000" stroke-width="1.55" stroke-linejoin="round"/>
<text class="ss" x="180.5" y="835.3" font-size="15.3" textLength="89" lengthAdjust="spacingAndGlyphs">GEMS Patch</text>
<polygon points="263,775 275.4,775 275.4,771.2 284,779.4 275.4,787.6 275.4,783.8 263,783.8" fill="#a6a6a6"/>
<polygon points="289.4,754 347,767.8 347,798.4 289.4,812.3" fill="url(#gEnc)" stroke="#fdc452" stroke-width="1"/>
<text class="ss" x="292.6" y="788.9" font-size="12.9" font-weight="bold" textLength="51.8" lengthAdjust="spacingAndGlyphs">Encoder</text>
<polygon points="348.7,778.6 361.2,778.6 361.2,774.8 369.8,783 361.2,791.2 361.2,787.4 348.7,787.4" fill="#a6a6a6"/>
<rect x="372" y="756.9" width="15.6" height="16.3" fill="#c6e0b4"/>
<rect x="373.3" y="758.2" width="13" height="13.7" fill="none" stroke="#fff" stroke-opacity=".5" stroke-width="1"/>
<rect x="372" y="773.2" width="15.6" height="16.3" fill="#c6e0b4"/>
<rect x="373.3" y="774.5" width="13" height="13.7" fill="none" stroke="#fff" stroke-opacity=".5" stroke-width="1"/>
<rect x="372" y="789.5" width="15.6" height="16.3" fill="#c6e0b4"/>
<rect x="373.3" y="790.8" width="13" height="13.7" fill="none" stroke="#fff" stroke-opacity=".5" stroke-width="1"/>
<path d="M372 756.9 h15.6 v48.9 h-15.6 Z M372 773.2 h15.6 M372 789.5 h15.6" fill="none" stroke="#000" stroke-width="1.5"/>
<text class="sf" x="376" y="823.4" font-size="14" font-weight="bold">Z</text>
<polygon points="390.7,778.6 403.2,778.6 403.2,774.8 411.8,783 403.2,791.2 403.2,787.4 390.7,787.4" fill="#a6a6a6"/>
<rect x="413.6" y="741.2" width="193.4" height="74.6" rx="5" fill="url(#gBox)" stroke="#fdc656" stroke-width="1.3"/>
<text class="ss" x="418.6" y="759.8" font-size="14.2" font-weight="bold" textLength="183.6" lengthAdjust="spacingAndGlyphs">Latent vector classification</text>
<g class="sf" font-size="15">
<text x="441" y="781.2" font-weight="bold" font-size="14.6" stroke="#000" stroke-width=".45" textLength="8.6" lengthAdjust="spacingAndGlyphs">C</text>
<text x="450.4" y="783.8" font-size="10" font-style="italic" stroke="#000" stroke-width=".25" textLength="30.4" lengthAdjust="spacing">TVMC</text>
<path d="M484.6 775.6 H492 M484.6 779.2 H492" stroke="#000" stroke-width="1.5" fill="none"/>
<text class="ss" x="492.6" y="781.4" font-size="14">{</text>
<text x="499" y="781" font-style="italic" font-weight="bold" font-size="14.6" textLength="8.8" lengthAdjust="spacingAndGlyphs">μ</text>
<text x="508.6" y="776.2" font-size="9.4" font-weight="bold">1</text>
<text x="508.4" y="783.8" font-size="9.4" font-weight="bold" font-style="italic">z</text>
<text x="516" y="781.2" font-style="italic" font-size="13">,</text>
<text x="523.6" y="781" font-style="italic" font-weight="bold" font-size="14.6" textLength="8.8" lengthAdjust="spacingAndGlyphs">μ</text>
<text x="533.2" y="776.2" font-size="9.4" font-weight="bold">2</text>
<text x="533" y="783.8" font-size="9.4" font-weight="bold" font-style="italic">z</text>
<text x="541" y="781.2" font-style="italic" font-size="13">,</text>
<text x="551" y="780.8" font-size="9" font-weight="bold" textLength="9.6" lengthAdjust="spacing">...,</text>
<text x="569" y="781" font-style="italic" font-weight="bold" font-size="14.6" textLength="8.8" lengthAdjust="spacingAndGlyphs">μ</text>
<text x="578.6" y="776.2" font-size="9.4" font-weight="bold" font-style="italic">K</text>
<text x="578.4" y="783.8" font-size="9.4" font-weight="bold" font-style="italic">z</text>
<text class="ss" x="586.8" y="781.4" font-size="14">}</text>
<text x="441" y="803.2" font-style="italic" font-weight="bold" font-size="14.6" textLength="8.8" lengthAdjust="spacingAndGlyphs">μ</text>
<text x="450.6" y="798.4" font-size="9.4" font-weight="bold" font-style="italic">k</text>
<text x="450.4" y="806" font-size="9.4" font-weight="bold" font-style="italic">z</text>
<path d="M460 795.8 H468 M460 799.4 H468" stroke="#000" stroke-width="1.05" fill="none"/>
<text x="473" y="803" font-size="14.2" textLength="17" lengthAdjust="spacingAndGlyphs">arg</text>
<text x="501" y="803.6" font-size="14.2" textLength="22" lengthAdjust="spacingAndGlyphs">min</text>
<text x="493.6" y="812" font-size="8" font-style="italic" font-weight="bold">k</text>
<path d="M502.4 807.2 H500.4 A2.2 2.2 0 0 0 500.4 811.6 H502.4 M498.4 809.4 H502.4" fill="none" stroke="#000" stroke-width="0.9"/>
<text x="503.4" y="812" font-size="8" textLength="28.6" lengthAdjust="spacing">{1,..,<tspan font-style="italic">K</tspan>}</text>
<text x="535.2" y="803" font-style="italic" font-size="14.4">d</text>
<path d="M546.6 794.2 Q541.8 801 546.6 808 M575.8 794.2 Q580.6 801 575.8 808" stroke="#000" stroke-width="1.1" fill="none"/>
<text x="548" y="803" font-weight="bold" font-size="13.4">Z</text>
<text x="555.4" y="803" font-style="italic" font-size="13">,</text>
<text x="560" y="803.2" font-style="italic" font-weight="bold" font-size="14.6" textLength="8.6" lengthAdjust="spacingAndGlyphs">μ</text>
<text x="569.4" y="798.4" font-size="9.4" font-weight="bold" font-style="italic">k</text>
<text x="569.2" y="806" font-size="9.4" font-weight="bold" font-style="italic">z</text>
</g>
<text class="ss" x="638" y="637.1" font-size="15.3" text-anchor="middle" textLength="124.4" lengthAdjust="spacingAndGlyphs">Endogenous Input</text>
<rect x="633.1" y="647.9" width="15.7" height="16.4" fill="#bdd7ee"/>
<rect x="634.4" y="649.2" width="13.1" height="13.8" fill="none" stroke="#fff" stroke-opacity=".5" stroke-width="1"/>
<rect x="633.1" y="664.3" width="15.7" height="16.4" fill="#bdd7ee"/>
<rect x="634.4" y="665.6" width="13.1" height="13.8" fill="none" stroke="#fff" stroke-opacity=".5" stroke-width="1"/>
<rect x="633.1" y="680.7" width="15.7" height="16.4" fill="#bdd7ee"/>
<rect x="634.4" y="682" width="13.1" height="13.8" fill="none" stroke="#fff" stroke-opacity=".5" stroke-width="1"/>
<rect x="633.1" y="697.1" width="15.7" height="16.4" fill="#bdd7ee"/>
<rect x="634.4" y="698.4" width="13.1" height="13.8" fill="none" stroke="#fff" stroke-opacity=".5" stroke-width="1"/>
<path d="M633.1 647.9 h15.7 v65.6 h-15.7 Z M633.1 664.3 h15.7 M633.1 680.7 h15.7 M633.1 697.1 h15.7" fill="none" stroke="#000" stroke-width="1.5"/>
<text class="ss" x="638.4" y="734.3" font-size="15.3" text-anchor="middle" textLength="115.2" lengthAdjust="spacingAndGlyphs">Exogenous Input</text>
<rect x="633.1" y="750.3" width="15.7" height="16.5" fill="#c9a9dd"/>
<rect x="634.4" y="751.6" width="13.1" height="13.9" fill="none" stroke="#fff" stroke-opacity=".5" stroke-width="1"/>
<rect x="633.1" y="766.8" width="15.7" height="16.5" fill="#c9a9dd"/>
<rect x="634.4" y="768.1" width="13.1" height="13.9" fill="none" stroke="#fff" stroke-opacity=".5" stroke-width="1"/>
<rect x="633.1" y="783.3" width="15.7" height="16.5" fill="#c9a9dd"/>
<rect x="634.4" y="784.6" width="13.1" height="13.9" fill="none" stroke="#fff" stroke-opacity=".5" stroke-width="1"/>
<path d="M633.1 750.3 h15.7 v49.5 h-15.7 Z M633.1 766.8 h15.7 M633.1 783.3 h15.7" fill="none" stroke="#000" stroke-width="1.5"/>
<polygon points="664,678 677.2,678 677.2,674.2 685.8,682.4 677.2,690.6 677.2,686.8 664,686.8" fill="#a6a6a6"/>
<polygon points="608.6,772.4 621.2,772.4 621.2,768.6 629.8,776.8 621.2,785 621.2,781.2 608.6,781.2" fill="#a6a6a6"/>
<polygon points="665,769.8 677.2,769.8 677.2,766 685.8,774.2 677.2,782.4 677.2,778.6 665,778.6" fill="#a6a6a6"/>
<g class="sf" font-size="13">
<text x="635.4" y="814.6" font-style="italic">μ</text><text x="643.6" y="809.6" font-size="8.6" font-style="italic">k</text><text x="643.6" y="817.8" font-size="8.6" font-style="italic">z</text>
</g>
<text class="ss" x="652" y="830.3" font-size="13.2" text-anchor="middle" textLength="88" lengthAdjust="spacingAndGlyphs">Nearest Cluster</text>
<rect x="700.9" y="644.2" width="143.8" height="150.8" rx="9" fill="#d9d9d9" stroke="#aeaeae" stroke-width="1.2"/>
<text class="ss" x="772.5" y="666.4" font-size="14.6" text-anchor="middle" font-weight="bold" textLength="79.4" lengthAdjust="spacingAndGlyphs">Time Series</text>
<text class="ss" x="772.5" y="683.5" font-size="14.6" text-anchor="middle" font-weight="bold" textLength="125.4" lengthAdjust="spacingAndGlyphs">Forecasting Model</text>
<text class="ss" x="724.2" y="711.2" font-size="10.2" fill="#111" textLength="67.8" lengthAdjust="spacingAndGlyphs">ARIMAX, SVR,</text>
<text class="ss" x="724.2" y="723.5" font-size="10.2" fill="#111" textLength="55.7" lengthAdjust="spacingAndGlyphs">MLP, LSTM,</text>
<text class="ss" x="724.2" y="735.9" font-size="10.2" fill="#111" textLength="74.2" lengthAdjust="spacingAndGlyphs">LSTM+Attention,</text>
<text class="ss" x="724.2" y="748.1" font-size="10.2" fill="#111" textLength="78.1" lengthAdjust="spacingAndGlyphs">Stacked BiLSTM,</text>
<text class="ss" x="724.2" y="760.7" font-size="10.2" fill="#111" textLength="57.6" lengthAdjust="spacingAndGlyphs">Transformer,</text>
<text class="ss" x="724.2" y="773" font-size="10.2" fill="#111" textLength="50.9" lengthAdjust="spacingAndGlyphs">ConvTrans,</text>
<text class="ss" x="724.2" y="785.4" font-size="10.2" fill="#111" textLength="85.4" lengthAdjust="spacingAndGlyphs">XGBoost,&#160; TimeXer</text>
<polygon points="851.2,713.2 863.4,713.2 863.4,709.4 872,717.6 863.4,725.8 863.4,722 851.2,722" fill="#a6a6a6"/>
<text class="ss" x="915.2" y="664.8" font-size="14.4" text-anchor="middle" textLength="73.6" lengthAdjust="spacingAndGlyphs">Forecasting</text>
<rect x="894.6" y="699" width="34.6" height="35.8" rx="4.5" fill="#fde0e1"/>
<line x1="871" y1="744" x2="927.5" y2="744" stroke="#707070" stroke-width="2.2"/>
<polygon points="934,744 926.5,747.45 926.5,740.55" fill="#7c7c7c"/>
<polyline points="877.8,731 892.2,706.4" fill="none" stroke="#2f62c4" stroke-width="2.2"/>
<polyline points="892.8,706.2 905,731.2 908.8,705.2 913.9,720.6 920.3,710.8 926.3,725.2" fill="none" stroke="#c00000" stroke-width="2.6" stroke-linejoin="round" stroke-linecap="round"/>
<line x1="892.6" y1="741.6" x2="892.6" y2="677.6" stroke="#151515" stroke-width="2.3" stroke-dasharray="7 3.1"/>
<circle cx="892.7" cy="743.5" r="2.4" fill="#3a3a3a"/>
</svg></body></html>
